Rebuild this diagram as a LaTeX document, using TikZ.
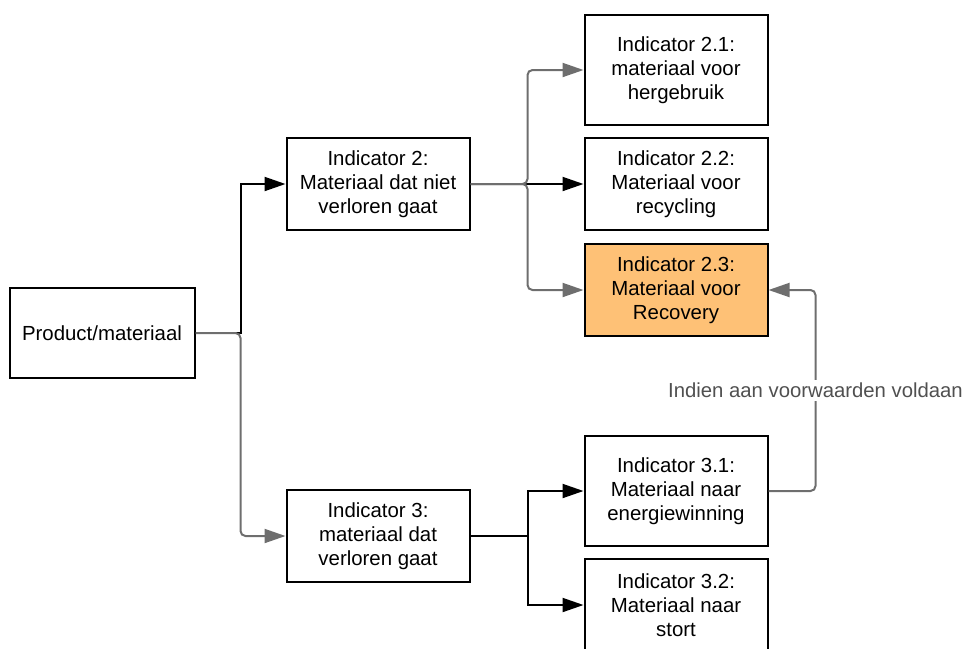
\documentclass[tikz,border=0pt]{standalone}
\usepackage{fontspec}
\setmainfont{Liberation Sans}
\usetikzlibrary{arrows.meta}
\definecolor{corange}{RGB}{254,193,118}
\definecolor{cgray}{RGB}{110,110,110}
\definecolor{ctext}{RGB}{80,80,80}

\begin{document}
\begin{tikzpicture}[x=1pt,y=-1pt,>={Triangle[length=21pt,width=14pt]},
  line width=2pt,
  ind node/.style={draw,line width=2pt,minimum width=183pt,minimum height=92pt,
    inner sep=0pt,align=center,font=\fontsize{20.4}{24}\selectfont},
  tall node/.style={ind node,minimum height=110pt},
  grey line/.style={->,cgray,rounded corners=5pt},
  black line/.style={->,black}]
  \useasboundingbox (0,0) rectangle (965,648);

  \node[ind node,minimum width=185pt,minimum height=90pt] (prod) at (102,333) {Product/materiaal};
  \node[ind node] (ind2) at (378,184) {Indicator 2:\\Materiaal dat niet\\verloren gaat};
  \node[ind node] (ind3) at (378,536) {Indicator 3:\\materiaal dat\\verloren gaat};
  \node[tall node] (ind21) at (676,70) {Indicator 2.1:\\materiaal voor\\hergebruik};
  \node[ind node] (ind22) at (676,184) {Indicator 2.2:\\Materiaal voor\\recycling};
  \node[ind node,fill=corange] (ind23) at (676,290) {Indicator 2.3:\\Materiaal voor\\Recovery};
  \node[tall node] (ind31) at (676,491) {Indicator 3.1:\\Materiaal naar\\energiewinning};
  \node[ind node] (ind32) at (676,605) {Indicator 3.2:\\Materiaal naar\\stort};

  % black connectors
  \draw[black line] (prod.east) -- ++(45,0) |- (ind2.west);
  \draw[black line] (ind2.east) -- ++(57,0) -- (ind22.west);
  \draw[black line] (ind3.east) -- ++(57,0) |- (ind31.west);
  \draw[black line] (ind3.east) -- ++(57,0) |- (ind32.west);

  % grey connectors
  \draw[grey line] (prod.east) -- ++(45,0) |- (ind3.west);
  \draw[grey line] (ind2.east) -- ++(57,0) |- (ind21.west);
  \draw[grey line] (ind2.east) -- ++(57,0) |- (ind23.west);
  \draw[grey line] (ind31.east) -- ++(47,0) |- node[pos=0.25,fill=white,text=ctext,
    inner sep=3pt,font=\fontsize{20.3}{24}\selectfont] {Indien aan voorwaarden voldaan} (ind23.east);
\end{tikzpicture}
\end{document}
